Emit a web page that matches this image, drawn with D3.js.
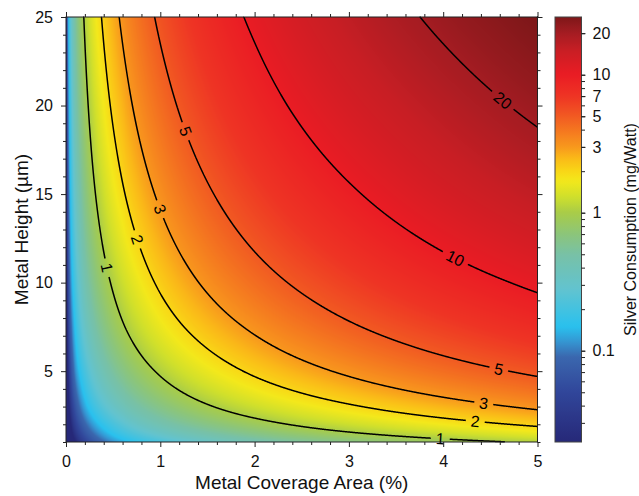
<!doctype html>
<html>
<head>
<meta charset="utf-8">
<title>Silver Consumption</title>
<script src="https://cdn.jsdelivr.net/npm/d3@7"></script>
<style>
  body { margin: 0; background: #fff; }
  svg text { font-family: "Liberation Sans", Arial, sans-serif; }
</style>
</head>
<body>
<div id="chart"></div>
<script>
// grid nodes
const coverage = [0.01, 0.02, 0.05, 0.1, 0.2, 0.5, 1, 2, 3, 4, 5];   // Metal Coverage Area (%)
const metalHeight = [1, 2, 3, 5, 7.5, 10, 15, 20, 25];               // Metal Height (µm)
// silver consumption (mg/Watt), one row per metal height, one column per coverage
const consumption = [
  [0.0021, 0.0043, 0.011, 0.021, 0.043, 0.11, 0.21, 0.43, 0.64, 0.85, 1.06],
  [0.0043, 0.0085, 0.021, 0.043, 0.085, 0.21, 0.43, 0.85, 1.28, 1.70, 2.13],
  [0.0064, 0.013, 0.032, 0.064, 0.13, 0.32, 0.64, 1.28, 1.91, 2.55, 3.19],
  [0.011, 0.021, 0.053, 0.11, 0.21, 0.53, 1.06, 2.13, 3.19, 4.26, 5.32],
  [0.016, 0.032, 0.080, 0.16, 0.32, 0.80, 1.60, 3.19, 4.79, 6.38, 7.98],
  [0.021, 0.043, 0.11, 0.21, 0.43, 1.06, 2.13, 4.26, 6.38, 8.51, 10.6],
  [0.032, 0.064, 0.16, 0.32, 0.64, 1.60, 3.19, 6.38, 9.57, 12.8, 16.0],
  [0.043, 0.085, 0.21, 0.43, 0.85, 2.13, 4.26, 8.51, 12.8, 17.0, 21.3],
  [0.053, 0.11, 0.27, 0.53, 1.06, 2.66, 5.32, 10.6, 16.0, 21.3, 26.6]
];
const levels = [1, 2, 3, 5, 10, 20];
// where each contour label sits (coverage, height)
const labelSpots = [
  { level: 1, a: 0.41, h: 10.8 }, { level: 1, a: 3.97, h: 1.2 },
  { level: 2, a: 0.73, h: 12.4 }, { level: 2, a: 4.34, h: 2.1 },
  { level: 3, a: 0.92, h: 14.0 }, { level: 3, a: 4.43, h: 3.2 },
  { level: 5, a: 1.24, h: 18.5 }, { level: 5, a: 4.59, h: 5.1 },
  { level: 10, a: 4.12, h: 11.3 },
  { level: 20, a: 4.62, h: 20.2 }
];
const xTicks = [0, 1, 2, 3, 4, 5];
const yTicks = [5, 10, 15, 20, 25];
const barTicks = [0.1, 1, 3, 5, 7, 10, 20];
const barRange = [0.0218, 26.2];
// colour map stops (value -> colour)
const cmapStops = [0.0218, 0.05, 0.09, 0.115, 0.15, 0.28, 0.5, 0.7, 1, 1.3, 1.7, 2, 2.5, 3, 5, 7, 10, 15, 20, 26.2];
const cmapColors = ['#262878', '#31469a', '#3a67ae', '#3594d1', '#29c1ee', '#62c3cf', '#78c1a6', '#8cc57a',
  '#a8cc48', '#cfdf2c', '#f3e81b', '#f9d716', '#fab818', '#f8981d', '#f15a22', '#ee3424', '#ea1c24',
  '#c81e24', '#a41c22', '#7e1719'];

const W = 639, H = 496;
const x = d3.scaleLinear().domain([0, 5]).range([66, 537.5]);
const y = d3.scaleLinear().domain([1, 25]).range([442, 17]);
const cb = d3.scaleLog().domain(barRange).range([442, 17]);
const color = d3.scaleLinear().domain(cmapStops.map(Math.log10)).range(cmapColors).clamp(true);

const svg = d3.select('#chart').append('svg').attr('width', W).attr('height', H);

// bilinear interpolation of the log values on the log-log grid
const lx = coverage.map(Math.log10), ly = metalHeight.map(Math.log10);
const lv = consumption.map(r => r.map(Math.log10));
function seg(arr, v) {
  let i = d3.bisectRight(arr, v) - 1;
  i = Math.max(0, Math.min(arr.length - 2, i));
  return [i, (v - arr[i]) / (arr[i + 1] - arr[i])];
}
function logField(a, h) {
  const [i, tx] = seg(lx, Math.log10(a));
  const [j, ty] = seg(ly, Math.log10(h));
  const top = (1 - tx) * lv[j][i] + tx * lv[j][i + 1];
  const bot = (1 - tx) * lv[j + 1][i] + tx * lv[j + 1][i + 1];
  return (1 - ty) * top + ty * bot;
}

// raster of the field
const x0 = x.range()[0], y0 = y.range()[1];
const plotW = x.range()[1] - x0, plotH = y.range()[0] - y0;
const res = 2;
const nx = Math.round(plotW * res), ny = Math.round(plotH * res);
const field = new Float64Array(nx * ny);
for (let j = 0; j < ny; j++) {
  const h = y.invert(y0 + (j + 0.5) / res);
  for (let i = 0; i < nx; i++) {
    field[j * nx + i] = logField(x.invert(x0 + (i + 0.5) / res), h);
  }
}
const lo = Math.log10(barRange[0]), hi = Math.log10(barRange[1]);
const lut = d3.range(1024).map(n => d3.rgb(color(lo + (hi - lo) * n / 1023)));
const canvas = document.createElement('canvas');
canvas.width = nx; canvas.height = ny;
const ctx = canvas.getContext('2d');
const img = ctx.createImageData(nx, ny);
for (let k = 0; k < field.length; k++) {
  let n = Math.round((field[k] - lo) / (hi - lo) * 1023);
  n = Math.max(0, Math.min(1023, n));
  const c = lut[n];
  img.data[4 * k] = c.r; img.data[4 * k + 1] = c.g; img.data[4 * k + 2] = c.b; img.data[4 * k + 3] = 255;
}
ctx.putImageData(img, 0, 0);
svg.append('image')
  .attr('x', x0).attr('y', y0).attr('width', plotW).attr('height', plotH)
  .attr('preserveAspectRatio', 'none')
  .attr('href', canvas.toDataURL());

// contour lines (drop the parts that run along the plot border)
const contours = d3.contours().size([nx, ny]).thresholds(levels.map(Math.log10))(field);
const onEdge = (a, b) => (a[0] === 0 && b[0] === 0) || (a[0] === nx && b[0] === nx) ||
  (a[1] === 0 && b[1] === 0) || (a[1] === ny && b[1] === ny);
const toScreen = p => [x0 + p[0] / res, y0 + p[1] / res];
const isolines = contours.map((c, li) => {
  const lines = [];
  c.coordinates.forEach(poly => poly.forEach(ring => {
    const parts = [];
    let cur = [];
    for (let k = 0; k < ring.length - 1; k++) {
      const a = ring[k], b = ring[k + 1];
      if (onEdge(a, b)) { if (cur.length > 1) parts.push(cur); cur = []; continue; }
      if (!cur.length) cur.push(a);
      cur.push(b);
    }
    if (cur.length > 1) {
      if (parts.length && parts[0][0][0] === ring[0][0] && parts[0][0][1] === ring[0][1]) {
        parts[0] = cur.concat(parts[0].slice(1));
      } else parts.push(cur);
    }
    parts.forEach(p => lines.push(p.map(toScreen)));
  }));
  return { level: levels[li], lines };
});

// label placement
const labels = labelSpots.map(s => {
  const iso = isolines.find(d => d.level === s.level);
  const tx = x(s.a), ty = y(s.h);
  let best = null, bd = Infinity;
  iso.lines.forEach(line => line.forEach((p, k) => {
    const d = (p[0] - tx) ** 2 + (p[1] - ty) ** 2;
    if (d < bd) { bd = d; best = { line, k }; }
  }));
  const { line, k } = best;
  const p = line[k];
  const pa = line[Math.max(0, k - 8)], pb = line[Math.min(line.length - 1, k + 8)];
  let ang = Math.atan2(pb[1] - pa[1], pb[0] - pa[0]) * 180 / Math.PI;
  if (ang > 90) ang -= 180;
  if (ang < -90) ang += 180;
  return { text: String(s.level), x: p[0], y: p[1], ang };
});

const defs = svg.append('defs');
const mask = defs.append('mask').attr('id', 'gaps')
  .attr('maskUnits', 'userSpaceOnUse').attr('x', 0).attr('y', 0).attr('width', W).attr('height', H);
mask.append('rect').attr('width', W).attr('height', H).attr('fill', 'white');
mask.selectAll('rect.gap').data(labels).join('rect').attr('class', 'gap')
  .attr('transform', d => `translate(${d.x},${d.y}) rotate(${d.ang})`)
  .attr('x', d => -(d.text.length * 9 + 10) / 2).attr('y', -8)
  .attr('width', d => d.text.length * 9 + 10).attr('height', 16)
  .attr('fill', 'black');

const line = d3.line();
const cg = svg.append('g').attr('mask', 'url(#gaps)');
isolines.forEach(iso => iso.lines.forEach(l => {
  cg.append('path').attr('d', line(l)).attr('fill', 'none')
    .attr('stroke', '#000').attr('stroke-width', 1.5);
}));
svg.append('g').selectAll('text').data(labels).join('text')
  .attr('transform', d => `translate(${d.x},${d.y}) rotate(${d.ang})`)
  .attr('text-anchor', 'middle').attr('dy', '0.35em')
  .attr('font-size', 16).attr('fill', '#000')
  .text(d => d.text);

// axes
const axisColor = '#222';
function styleAxis(g) {
  g.select('.domain').remove();
  g.selectAll('line').attr('stroke', axisColor);
  g.selectAll('text').attr('font-size', 16).attr('fill', '#111')
    .attr('font-family', '"Liberation Sans", Arial, sans-serif');
}
const xMinor = d3.range(0, 26).map(i => i / 5).filter(v => Math.abs(v - Math.round(v)) > 1e-9);
const yMinor = d3.range(1, 26).filter(v => v % 5 !== 0);

svg.append('g').attr('transform', `translate(0,${y.range()[0]})`)
  .call(d3.axisBottom(x).tickValues(xTicks).tickSize(5).tickPadding(9).tickSizeOuter(0).tickFormat(d3.format('d')))
  .call(styleAxis);
svg.append('g').attr('transform', `translate(0,${y.range()[0]})`)
  .call(d3.axisBottom(x).tickValues(xMinor).tickSize(3).tickFormat('')).call(styleAxis);
svg.append('g').attr('transform', `translate(0,${y0})`)
  .call(d3.axisTop(x).tickValues(xTicks).tickSize(5).tickFormat('')).call(styleAxis);
svg.append('g').attr('transform', `translate(0,${y0})`)
  .call(d3.axisTop(x).tickValues(xMinor).tickSize(3).tickFormat('')).call(styleAxis);

svg.append('g').attr('transform', `translate(${x0},0)`)
  .call(d3.axisLeft(y).tickValues(yTicks).tickSize(5).tickPadding(8).tickFormat(d3.format('d')))
  .call(styleAxis);
svg.append('g').attr('transform', `translate(${x0},0)`)
  .call(d3.axisLeft(y).tickValues(yMinor).tickSize(3).tickFormat('')).call(styleAxis);
svg.append('g').attr('transform', `translate(${x.range()[1]},0)`)
  .call(d3.axisRight(y).tickValues(yTicks).tickSize(5).tickFormat('')).call(styleAxis);
svg.append('g').attr('transform', `translate(${x.range()[1]},0)`)
  .call(d3.axisRight(y).tickValues(yMinor).tickSize(3).tickFormat('')).call(styleAxis);

svg.append('rect').attr('x', x0).attr('y', y0).attr('width', plotW).attr('height', plotH)
  .attr('fill', 'none').attr('stroke', axisColor).attr('stroke-width', 1);

svg.append('text').attr('x', (x0 + x.range()[1]) / 2).attr('y', 489)
  .attr('text-anchor', 'middle').attr('font-size', 19).attr('fill', '#111')
  .text('Metal Coverage Area (%)');
svg.append('text').attr('transform', `translate(28,${(y0 + y.range()[0]) / 2}) rotate(-90)`)
  .attr('text-anchor', 'middle').attr('font-size', 19).attr('fill', '#111')
  .text('Metal Height (µm)');

// colour bar
const barX = 555, barW = 26.5;
const grad = defs.append('linearGradient').attr('id', 'cbar')
  .attr('x1', 0).attr('y1', 1).attr('x2', 0).attr('y2', 0);
d3.range(0, 101).forEach(n => {
  grad.append('stop').attr('offset', n / 100).attr('stop-color', color(lo + (hi - lo) * n / 100));
});
svg.append('rect').attr('x', barX).attr('y', cb.range()[1]).attr('width', barW)
  .attr('height', cb.range()[0] - cb.range()[1])
  .attr('fill', 'url(#cbar)').attr('stroke', '#444').attr('stroke-width', 1);
const barMinor = [];
[-2, -1, 0, 1].forEach(e => d3.range(1, 10).forEach(m => {
  const v = m * Math.pow(10, e);
  if (v >= barRange[0] && v <= barRange[1]) barMinor.push(v);
}));
svg.append('g').attr('transform', `translate(${barX + barW},0)`)
  .call(d3.axisRight(cb).tickValues(barMinor).tickSize(3.5).tickFormat('')).call(styleAxis);
svg.append('g').attr('transform', `translate(${barX + barW},0)`)
  .call(d3.axisRight(cb).tickValues(barTicks).tickSize(4).tickPadding(7).tickFormat(d3.format('~g')))
  .call(styleAxis);
svg.append('text').attr('transform', `translate(636,${(cb.range()[0] + cb.range()[1]) / 2}) rotate(-90)`)
  .attr('text-anchor', 'middle').attr('font-size', 16).attr('fill', '#111')
  .text('Silver Consumption (mg/Watt)');
</script>
</body>
</html>
